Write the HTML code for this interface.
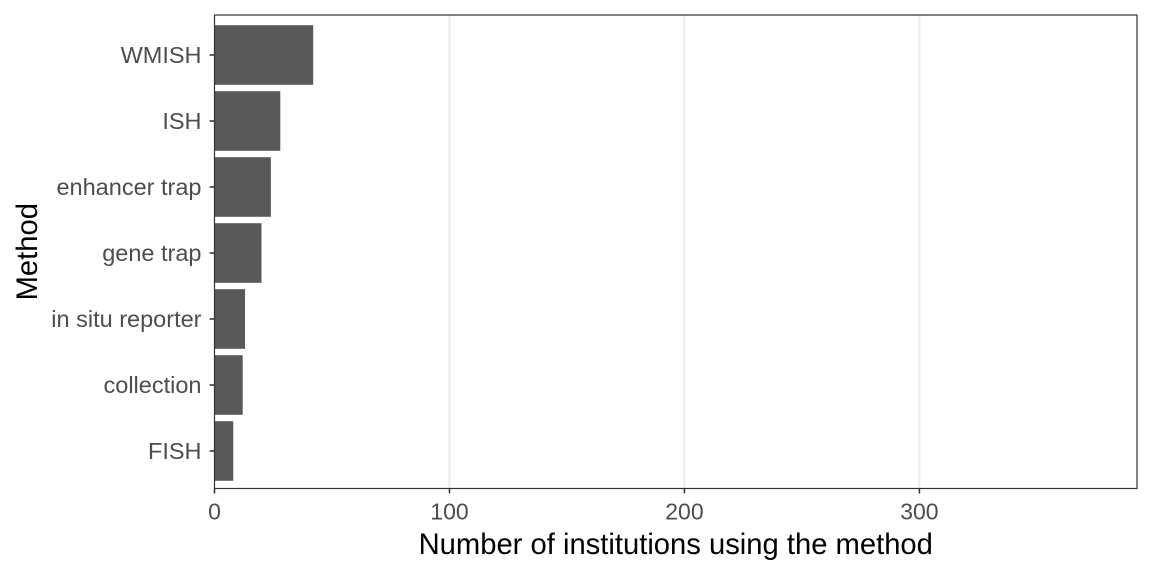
<!DOCTYPE html>
<html><head><meta charset="utf-8"><style>
body{margin:0;background:#fff;}
svg{display:block;font-family:"Liberation Sans",Arial,sans-serif;}
</style></head><body>
<svg id="chart" width="1152" height="576" xmlns="http://www.w3.org/2000/svg">
<rect x="0" y="0" width="1152" height="576" fill="#fff"/>
<g id="grid"></g><g id="bars"></g><g id="axes"></g>
</svg>
<script>
const categories = ["WMISH","ISH","enhancer trap","gene trap","in situ reporter","collection","FISH"];
const values = [42,28,24,20,13,12,8];
const xTicks = [0,100,200,300];
const xTickLabels = ["0","100","200","300"];

const NS="http://www.w3.org/2000/svg";
const L=214.5,R=1137,T=15,B=488.5;
const xMax=392.6;
const x=v=>L+v/xMax*(R-L);
const step=66, y0=55;
const y=i=>y0+i*step;
const bh=59.6;
function mk(tag,attrs,parent,text){const e=document.createElementNS(NS,tag);for(const k in attrs)e.setAttribute(k,attrs[k]);if(text!==undefined)e.textContent=text;parent.appendChild(e);return e;}
const grid=document.getElementById('grid'),bars=document.getElementById('bars'),axes=document.getElementById('axes');
xTicks.forEach((t,i)=>{
  if(t>0){const g=mk('line',{x1:x(t),x2:x(t),y1:T,y2:B,stroke:'#ebebeb','stroke-width':2},grid);
  
  }
  const tk=mk('line',{x1:x(t),x2:x(t),y1:B,y2:B+5,stroke:'#333','stroke-width':1.5},axes);
  
  
  const lb=mk('text',{x:x(t),y:B+31,'text-anchor':'middle','font-size':23,fill:'#4d4d4d'},axes,xTickLabels[i]);
  
  
});
categories.forEach((c,i)=>{
  const r=mk('rect',{x:x(0),y:y(i)-bh/2,width:x(values[i])-x(0),height:bh,fill:'#595959'},bars);
  
  
  const tk=mk('line',{x1:L-5,x2:L,y1:y(i),y2:y(i),stroke:'#333','stroke-width':1.5},axes);
  
  
  const lb=mk('text',{x:L-13,y:y(i)+8,'text-anchor':'end','font-size':23.5,fill:'#4d4d4d'},axes,c);
  
  
});
const pb=mk('rect',{x:L,y:T,width:R-L,height:B-T,fill:'none',stroke:'#333','stroke-width':1.2},axes);


const xt=mk('text',{x:(L+R)/2,y:554,'text-anchor':'middle','font-size':29.2,fill:'#000'},axes,'Number of institutions using the method');


const yt=mk('text',{x:37,y:(T+B)/2,'text-anchor':'middle','font-size':29.2,fill:'#000',transform:'rotate(-90 37 '+((T+B)/2)+')'},axes,'Method');


</script>
</body></html>
